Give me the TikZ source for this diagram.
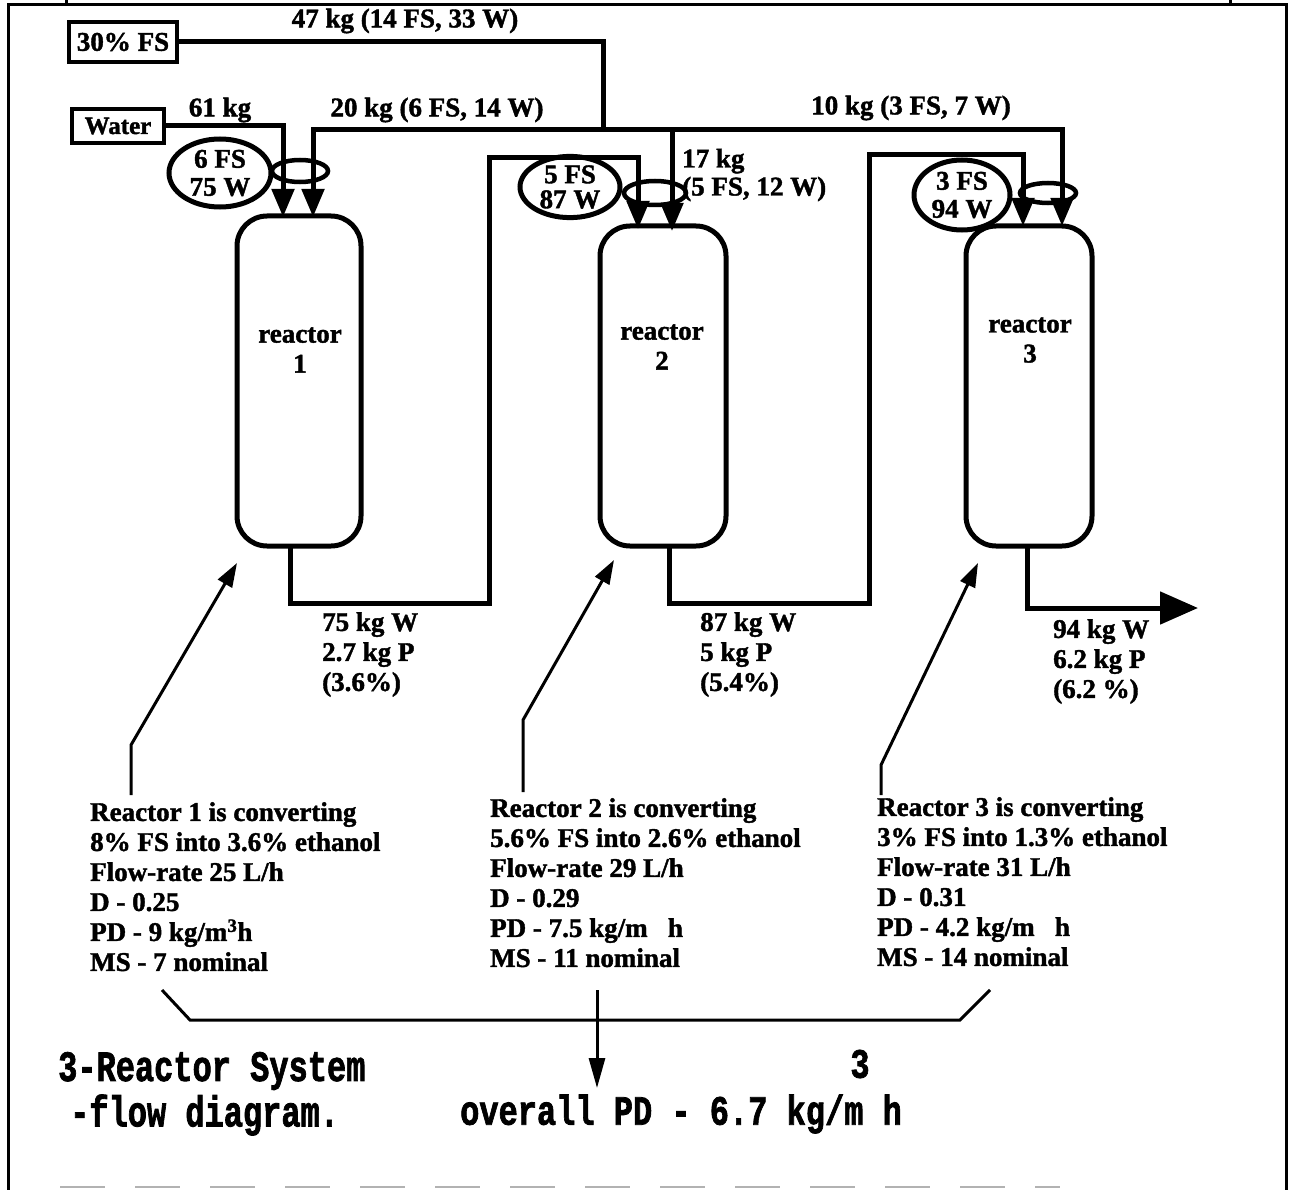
\documentclass[tikz,border=0pt]{standalone}
\usepackage{graphicx}
\usepackage{fontspec}
\setmainfont{Liberation Serif}[BoldFeatures={FakeBold=1.5}]
\newfontfamily\monob{Liberation Mono}[BoldFeatures={FakeBold=2}]
\usetikzlibrary{arrows.meta,shapes.geometric}
\begin{document}
\begin{tikzpicture}[x=1pt,y=-1pt,
  pipe/.style={line width=5pt},
  tipin/.tip={Triangle[length=28pt,width=22pt]},
  inarrow/.style={pipe,-tipin},
  lbl/.style={font=\fontsize{27}{30}\selectfont\bfseries, inner sep=0pt},
  cloud/.style={draw, ellipse, line width=5pt, inner sep=0pt, align=center, font=\fontsize{27}{28}\selectfont\bfseries},
  ring/.style={draw, ellipse, line width=4.5pt, inner sep=0pt},
  reactorbox/.style={draw, line width=5pt, rounded corners=30pt, inner sep=0pt},
  feedbox/.style={draw, line width=4pt, inner sep=0pt, font=\fontsize{27}{30}\selectfont\bfseries},
  ptr/.style={line width=3pt, -{Triangle[length=24pt,width=16pt]}},
  big/.style={font=\monob\bfseries\fontsize{32}{40}\selectfont, inner sep=0pt}
]
\useasboundingbox (0,0) rectangle (1297,1190);
% frame
\draw[line width=3pt] (8,1190) -- (8,5) -- (1286,5) -- (1286,1190);
\draw[line width=3pt] (66,0) -- (66,5);
\draw[line width=3pt] (1230,0) -- (1230,5);
\draw[line width=2pt, gray!60, dash pattern=on 45pt off 30pt] (60,1187) -- (1060,1187);

% reactors
\node[reactorbox, minimum width=124pt, minimum height=330pt] (r1) at (299,381) {};
\node[reactorbox, minimum width=126pt, minimum height=320pt] (r2) at (663,386) {};
\node[reactorbox, minimum width=126pt, minimum height=320pt] (r3) at (1029,386) {};
\node[lbl, align=center] (r1t) at (300,350) {reactor\\1};
\node[lbl, align=center] (r2t) at (662,347) {reactor\\2};
\node[lbl, align=center] (r3t) at (1030,340) {reactor\\3};

% feed boxes
\node[feedbox, minimum width=108pt, minimum height=40pt] (fs) at (123,42) {30\% FS};
\node[feedbox, minimum width=92pt, minimum height=34pt, font=\fontsize{25}{28}\selectfont\bfseries] (water) at (118,126) {Water};

% rings
\node[ring, minimum width=56pt, minimum height=22pt] (ring1) at (300,171) {};
\node[ring, minimum width=62pt, minimum height=24pt] (ring2) at (655,193) {};
\node[ring, minimum width=56pt, minimum height=20pt] (ring3) at (1048,193) {};

% composition ellipses
\node[cloud, minimum width=102pt, minimum height=68pt] (e1) at (220,173) {6 FS\\75 W};
\node[cloud, minimum width=100pt, minimum height=58pt, font=\fontsize{27}{25}\selectfont\bfseries] (e2) at (570,187) {5 FS\\87 W};
\node[cloud, minimum width=96pt, minimum height=70pt] (e3) at (962,195) {3 FS\\94 W};

% coordinates
\coordinate (r1a) at (283,217);
\coordinate (r1b) at (313,217);
\coordinate (r2a) at (638,229);
\coordinate (r2b) at (672,231);
\coordinate (r3a) at (1023,226);
\coordinate (r3b) at (1062,226);
\coordinate (hdr3) at (1062,130);
\coordinate (jfs) at (603,130);
\coordinate (j17) at (672,130);
\coordinate (o1) at (290,546);
\coordinate (o2) at (669,546);
\coordinate (o3) at (1027,546);
\coordinate (prod) at (1198,608);

% pipes
\draw[pipe] (fs.east) -| (jfs);
\draw[inarrow] (water.east) -| (r1a);
\draw[pipe, tipin-tipin] (r1b) |- (hdr3) -- (r3b);
\draw[inarrow] (j17) -- (r2b);
\draw[inarrow] (o1) -- (290,603) -- (489,603) -- (489,158) -- (638,158) -- (r2a);
\draw[inarrow] (o2) -- (669,603) -- (869,603) -- (869,155) -- (1023,155) -- (r3a);
\draw[pipe, -{Triangle[length=38pt,width=32pt]}] (o3) -- (1027,608) -- (prod);

% stream labels
\node[lbl] (l47) at (405,21) {47 kg (14 FS, 33 W)};
\node[lbl] (l61) at (220,110) {61 kg};
\node[lbl] (l20) at (437,110) {20 kg (6 FS, 14 W)};
\node[lbl] (l10) at (911,108) {10 kg (3 FS, 7 W)};
\node[lbl, anchor=west, align=left, font=\fontsize{27}{28}\selectfont\bfseries] (l17) at (682,175) {17 kg\\(5 FS, 12 W)};
\node[lbl, anchor=north west, align=left] (out1) at (322,612) {75 kg W\\2.7 kg P\\(3.6\%)};
\node[lbl, anchor=north west, align=left] (out2) at (700,612) {87 kg W\\5 kg P\\(5.4\%)};
\node[lbl, anchor=north west, align=left] (out3) at (1053,619) {94 kg W\\6.2 kg P\\(6.2 \%)};

% description blocks
\node[lbl, anchor=north west, align=left] (b1) at (90,802) {Reactor 1 is converting\\8\% FS into 3.6\% ethanol\\Flow-rate 25 L/h\\D - 0.25\\PD - 9 kg/m\textsuperscript{3}h\\MS - 7 nominal};
\node[lbl, anchor=north west, align=left] (b2) at (490,798) {Reactor 2 is converting\\5.6\% FS into 2.6\% ethanol\\Flow-rate 29 L/h\\D - 0.29\\PD - 7.5 kg/m\hspace{0.5em} h\\MS - 11 nominal};
\node[lbl, anchor=north west, align=left] (b3) at (877,797) {Reactor 3 is converting\\3\% FS into 1.3\% ethanol\\Flow-rate 31 L/h\\D - 0.31\\PD - 4.2 kg/m\hspace{0.5em} h\\MS - 14 nominal};

% pointers
\coordinate (p1) at (131,795);
\coordinate (p2) at (523,792);
\coordinate (p3) at (881,795);
\coordinate (t1) at (237,563);
\coordinate (t2) at (614,560);
\coordinate (t3) at (978,563);
\draw[ptr] (p1) -- (131,745) -- (t1);
\draw[ptr] (p2) -- (523,720) -- (t2);
\draw[ptr] (p3) -- (881,765) -- (t3);

% bracket and overall arrow
\coordinate (bl) at (162,990);
\coordinate (br) at (990,990);
\draw[line width=3pt] (bl) -- (190,1020) -- (960,1020) -- (br);
\coordinate (ds) at (597,990);
\coordinate (de) at (597,1088);
\draw[line width=3pt, -{Triangle[length=30pt,width=16pt]}] (ds) -- (de);

% titles
\node[big, anchor=west] (title1) at (58,1071) {\scalebox{1}[1.35]{3-Reactor System}};
\node[big, anchor=west] (title2) at (70,1115) {\scalebox{1}[1.35]{-flow diagram.}};
\node[big, anchor=west] (overall) at (460,1114) {\scalebox{1}[1.3]{overall PD - 6.7 kg/m h}};
\node[big] (sup3) at (860,1064) {\scalebox{1}[1.3]{3}};
\end{tikzpicture}
\end{document}
